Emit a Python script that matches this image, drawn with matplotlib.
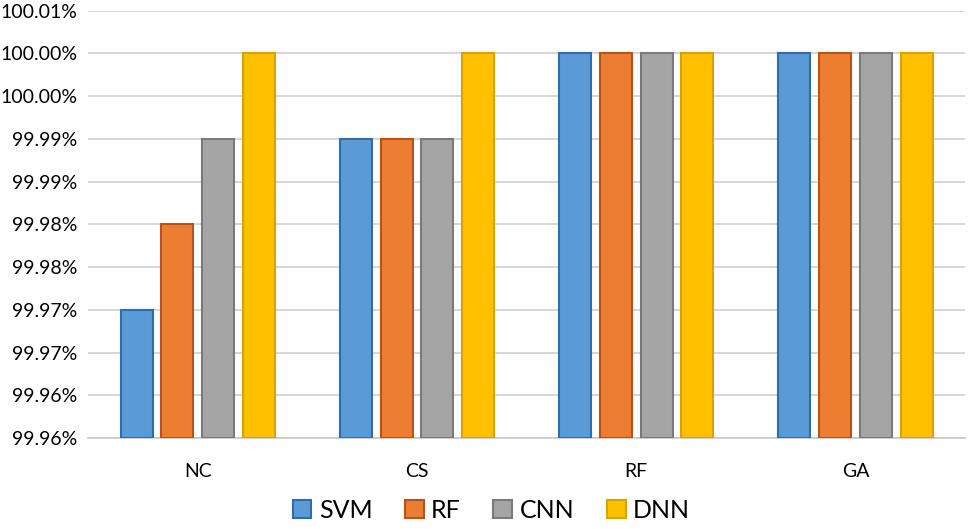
import matplotlib.pyplot as plt
import numpy as np

plt.rcParams['font.family'] = ['Lato', 'DejaVu Sans']

# data
categories = ['NC', 'CS', 'RF', 'GA']
models = ['SVM', 'RF', 'CNN', 'DNN']
svm = [99.970, 99.990, 100.000, 100.000]
rf = [99.980, 99.990, 100.000, 100.000]
cnn = [99.990, 99.990, 100.000, 100.000]
dnn = [100.000, 100.000, 100.000, 100.000]
yticks = [99.955, 99.960, 99.965, 99.970, 99.975, 99.980, 99.985, 99.990, 99.995, 100.000, 100.005]
ytick_labels = ['99.96%', '99.96%', '99.97%', '99.97%', '99.98%', '99.98%',
                '99.99%', '99.99%', '100.00%', '100.00%', '100.01%']

face_colors = ['#5B9BD5', '#ED7D31', '#A5A5A5', '#FFC000']
edge_colors = ['#2E6DA8', '#B5531A', '#7A7A7A', '#D9A200']

fig = plt.figure(figsize=(9.69, 5.29), dpi=100)
ax = fig.add_axes([0.091, 0.172, 0.905, 0.808])

x = np.arange(len(categories))
step = 0.186
width = 0.146
base = yticks[0]
for i, (name, vals) in enumerate(zip(models, [svm, rf, cnn, dnn])):
    vals = np.array(vals)
    ax.bar(x + (i - 1.5) * step, vals - base, width, bottom=base,
           color=face_colors[i], edgecolor=edge_colors[i], linewidth=1.5,
           label=name, zorder=3)

ax.set_xlim(-0.5, len(categories) - 0.5)
ax.set_ylim(yticks[0], yticks[-1])
ax.set_yticks(yticks)
ax.set_yticklabels(ytick_labels)
ax.set_xticks(x)
ax.set_xticklabels(categories)
ax.tick_params(axis='both', length=0, labelsize=14, colors='black')
ax.tick_params(axis='x', pad=18)
ax.tick_params(axis='y', pad=8)
ax.grid(axis='y', color='#D0D0D0', linewidth=1.2, zorder=0)
for s in ['top', 'right', 'left']:
    ax.spines[s].set_visible(False)
ax.spines['bottom'].set_color('#C8C8C8')
ax.spines['bottom'].set_linewidth(1.2)

fig.legend(*ax.get_legend_handles_labels(), loc='center', bbox_to_anchor=(0.507, 0.035),
           ncol=4, frameon=False, fontsize=18, handlelength=0.75, handleheight=0.75,
           handletextpad=0.3, columnspacing=1.3, borderpad=0.1)

fig.savefig('out.png', dpi=100)
